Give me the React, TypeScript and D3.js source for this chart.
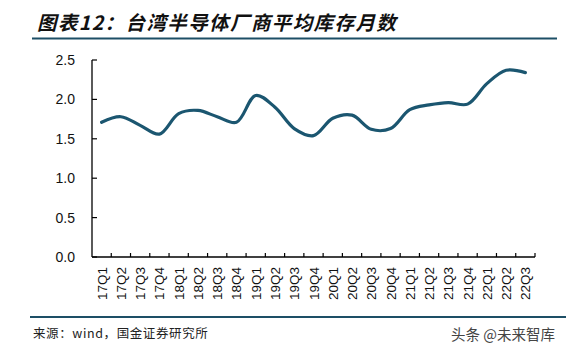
import React from "react";
import * as d3 from "d3";

const categories = ["17Q1","17Q2","17Q3","17Q4","18Q1","18Q2","18Q3","18Q4","19Q1","19Q2","19Q3","19Q4","20Q1","20Q2","20Q3","20Q4","21Q1","21Q2","21Q3","21Q4","22Q1","22Q2","22Q3"];
const values = [1.71,1.78,1.67,1.56,1.82,1.86,1.78,1.71,2.05,1.9,1.63,1.54,1.76,1.8,1.62,1.63,1.87,1.93,1.96,1.94,2.2,2.37,2.34];
const yTicks = [0, 0.5, 1.0, 1.5, 2.0, 2.5];
const title = "图表12：台湾半导体厂商平均库存月数";
const source = "来源：wind，国金证券研究所";
const watermark = "头条 @未来智库";

export default function App() {
  const W = 566, H = 354;
  const left = 92, right = 535, top = 60, bottom = 257;
  const x = d3.scaleBand<string>().domain(categories).range([left, right]).padding(0);
  const y = d3.scaleLinear().domain([0, 2.5]).range([bottom, top]);
  const line = d3.line<number>()
    .x((_, i) => (x(categories[i]) as number) + x.bandwidth() / 2)
    .y((d) => y(d))
    .curve(d3.curveCatmullRom.alpha(0.5));
  const lineColor = "#1b5670";
  const boundaries = categories.map((c) => (x(c) as number) + x.bandwidth());
  return (
    <svg width={W} height={H} style={{ position: "absolute", left: 0, top: 0, background: "#fff" }}>
      <text x={37} y={30} fontFamily="'Noto Sans CJK SC'" fontWeight={700} fontStyle="italic" fontSize={19.5} letterSpacing={1.4} fill="#111">{title}</text>
      <line x1={32} x2={557} y1={38.5} y2={38.5} stroke="#1d4f66" strokeWidth={2} />
      {/* y axis */}
      <line x1={left} x2={left} y1={top} y2={bottom} stroke="#000" strokeWidth={1.3} />
      {yTicks.map((t) => (
        <g key={t}>
          <line x1={left} x2={left + 5} y1={y(t)} y2={y(t)} stroke="#000" strokeWidth={1.2} />
          <text x={75} y={y(t) + 5} textAnchor="end" fontFamily="'Liberation Sans', Arial" fontSize={14} fill="#111">{t.toFixed(1)}</text>
        </g>
      ))}
      {/* x axis */}
      <line x1={left} x2={right} y1={bottom} y2={bottom} stroke="#000" strokeWidth={1.3} />
      {boundaries.map((b, i) => (
        <line key={i} x1={b} x2={b} y1={bottom} y2={bottom - 4} stroke="#000" strokeWidth={1.2} />
      ))}
      {categories.map((c) => {
        const cx = (x(c) as number) + x.bandwidth() / 2;
        return (
          <text key={c} transform={`translate(${cx + 5},${267}) rotate(-90)`} textAnchor="end" fontFamily="'Liberation Sans', Arial" fontSize={13.5} fill="#111">{c}</text>
        );
      })}
      <path d={line(values) || ""} fill="none" stroke={lineColor} strokeWidth={3.2} strokeLinejoin="round" strokeLinecap="round" />
      <line x1={30} x2={566} y1={317} y2={317} stroke="#1d4f66" strokeWidth={2} />
      <text x={33} y={338} fontFamily="'Noto Sans CJK SC'" fontSize={12.5} letterSpacing={0.6} fill="#222">{source}</text>
      <text x={451} y={340} fontFamily="'Noto Sans CJK SC'" fontSize={14.5} fill="#444">{watermark}</text>
    </svg>
  );
}
